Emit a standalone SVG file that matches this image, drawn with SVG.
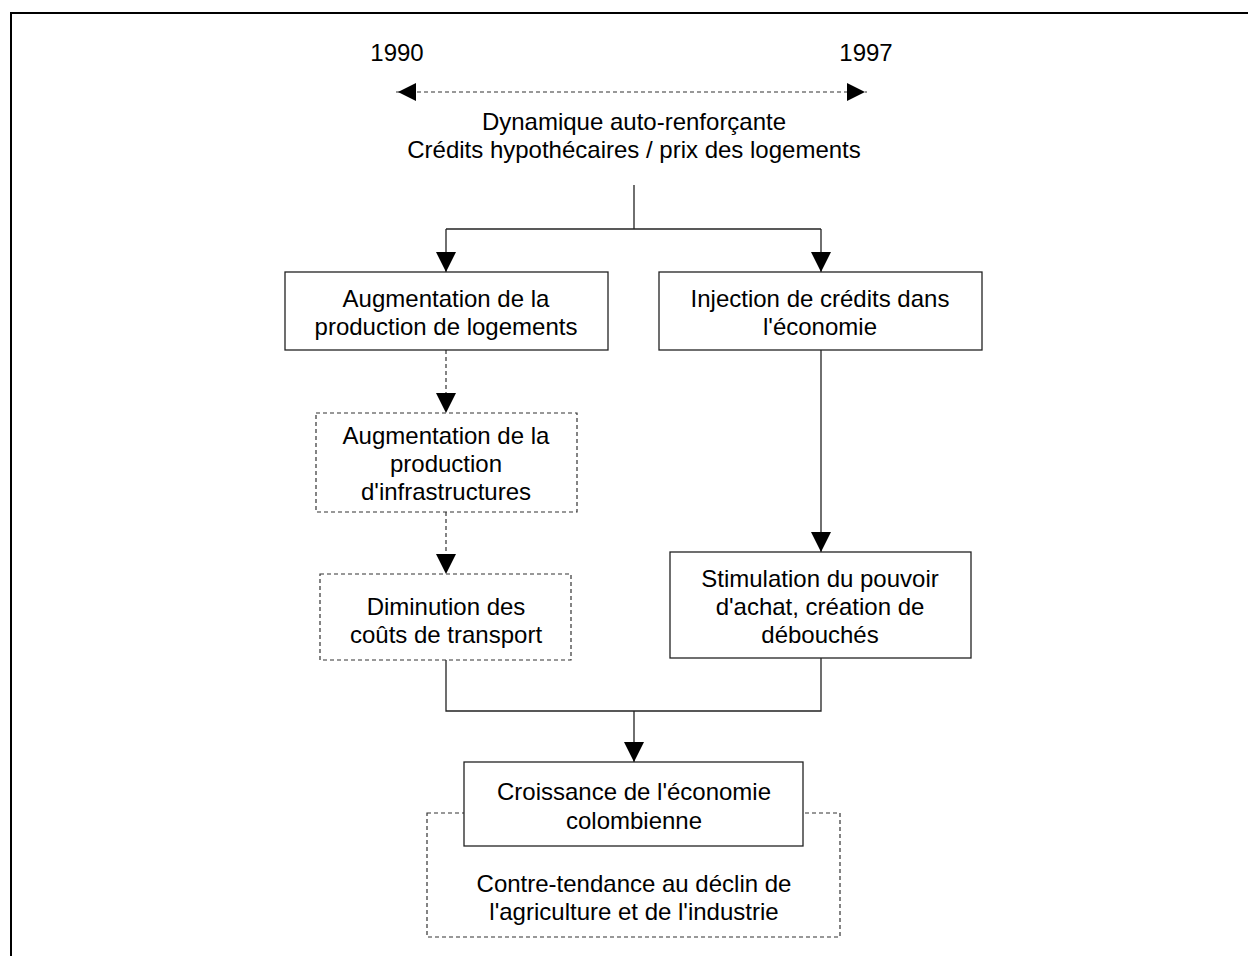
<svg xmlns="http://www.w3.org/2000/svg" width="1248" height="956" viewBox="0 0 1248 956">
<style>
text{font-family:"Liberation Sans",Arial,sans-serif;font-size:24px;fill:#000;text-anchor:middle}
.box{fill:#fff;stroke:#222;stroke-width:1.3}
.dbox{fill:#fff;stroke:#333;stroke-width:1.2;stroke-dasharray:4 3}
.ln{fill:none;stroke:#222;stroke-width:1.3}
.dln{fill:none;stroke:#333;stroke-width:1.2;stroke-dasharray:4 3}
</style>
<defs>
<marker id="ah" markerUnits="userSpaceOnUse" markerWidth="20" markerHeight="20" viewBox="0 0 20 20" refX="20" refY="10" orient="auto">
<path d="M0,0 L20,10 L0,20 Z" fill="#000"/>
</marker>
<marker id="ahs" markerUnits="userSpaceOnUse" markerWidth="20" markerHeight="20" viewBox="0 0 20 20" refX="20" refY="10" orient="auto-start-reverse">
<path d="M0,1 L18,10 L0,19 Z" fill="#000"/>
</marker>
</defs>
<rect width="1248" height="956" fill="#fff"/>
<path d="M11,956 V13 H1248" fill="none" stroke="#000" stroke-width="2"/>

<g id="timeline">
<text x="397" y="61">1990</text>
<text x="866" y="61">1997</text>
<text x="634" y="130">Dynamique auto-renforçante</text>
<text x="634" y="158">Crédits hypothécaires / prix des logements</text>
</g>

<g id="connectors">
<path class="dln" d="M396,92 H867" marker-start="url(#ahs)" marker-end="url(#ahs)"/>
<path class="ln" d="M634,185 V229"/>
<path class="ln" d="M446,229 H821"/>
<path class="ln" d="M446,229 V272" marker-end="url(#ah)"/>
<path class="ln" d="M821,229 V272" marker-end="url(#ah)"/>
<path class="dln" d="M446,350 V413" marker-end="url(#ah)"/>
<path class="dln" d="M446,512 V574" marker-end="url(#ah)"/>
<path class="ln" d="M821,350 V552" marker-end="url(#ah)"/>
<path class="ln" d="M446,660 V711 H821 V658"/>
<path class="ln" d="M634,711 V762" marker-end="url(#ah)"/>
</g>

<g id="n-contre">
<rect class="dbox" x="427" y="813" width="413" height="124"/>
<text x="634" y="892">Contre-tendance au déclin de</text>
<text x="634" y="920">l'agriculture et de l'industrie</text>
</g>

<g id="n-logements">
<rect class="box" x="285" y="272" width="323" height="78"/>
<text x="446" y="307">Augmentation de la</text>
<text x="446" y="335">production de logements</text>
</g>

<g id="n-injection">
<rect class="box" x="659" y="272" width="323" height="78"/>
<text x="820" y="307">Injection de crédits dans</text>
<text x="820" y="335">l'économie</text>
</g>

<g id="n-infra">
<rect class="dbox" x="316" y="413" width="261" height="99"/>
<text x="446" y="444">Augmentation de la</text>
<text x="446" y="472">production</text>
<text x="446" y="500">d'infrastructures</text>
</g>

<g id="n-transport">
<rect class="dbox" x="320" y="574" width="251" height="86"/>
<text x="446" y="615">Diminution des</text>
<text x="446" y="643">coûts de transport</text>
</g>

<g id="n-pouvoir">
<rect class="box" x="670" y="552" width="301" height="106"/>
<text x="820" y="587">Stimulation du pouvoir</text>
<text x="820" y="615">d'achat, création de</text>
<text x="820" y="643">débouchés</text>
</g>

<g id="n-croissance">
<rect class="box" x="464" y="762" width="339" height="84"/>
<text x="634" y="800">Croissance de l'économie</text>
<text x="634" y="829">colombienne</text>
</g>
</svg>
